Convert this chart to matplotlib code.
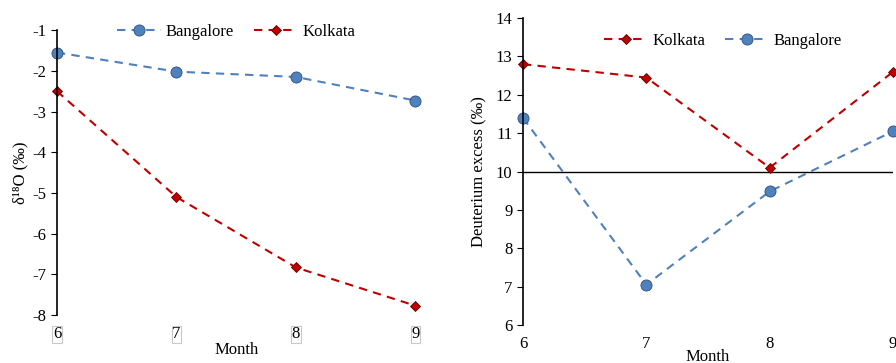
import numpy as np
import matplotlib.pyplot as plt

plt.rcParams["font.family"] = ["Liberation Serif", "DejaVu Serif"]
plt.rcParams["axes.unicode_minus"] = False

months = [6, 7, 8, 9]
d18o_bangalore = [-1.55, -2.02, -2.15, -2.73]
d18o_kolkata = [-2.5, -5.1, -6.83, -7.77]
dex_kolkata = [12.8, 12.45, 10.1, 12.6]
dex_bangalore = [11.4, 7.05, 9.48, 11.05]

blue = "#4F81BD"
red = "#C00000"

fig = plt.figure(figsize=(8.96, 3.63), dpi=100)
ax1 = fig.add_axes([0.0636, 0.132, 0.4, 0.785])
ax2 = fig.add_axes([0.5837, 0.105, 0.413, 0.845])

def style(ax):
	for s in ["top", "right", "bottom"]:
		ax.spines[s].set_visible(False)
	ax.spines["left"].set_linewidth(1.2)
	ax.tick_params(axis="y", direction="out", length=4, labelsize=12)
	ax.tick_params(axis="x", length=0, labelsize=12, pad=8)
	ax.set_xlim(6, 9)
	ax.set_xticks(months)

blue_kw = dict(color=blue, ls="--", lw=1.5, marker="o", ms=8, mfc=blue, mec="#2F4F7F", mew=0.6, dashes=(4, 3))
red_kw = dict(color=red, ls="--", lw=1.5, marker="D", ms=5.5, mfc=red, mec="#600000", mew=0.6, dashes=(4, 3))

ax1.plot(months, d18o_bangalore, label="Bangalore", clip_on=False, **blue_kw)
ax1.plot(months, d18o_kolkata, label="Kolkata", clip_on=False, **red_kw)
style(ax1)
ax1.set_ylim(-8, -1)
ax1.set_yticks(range(-8, 0))
ax1.set_ylabel("δ¹⁸O (‰)", fontsize=12, labelpad=3)
ax1.set_xlabel("Month", fontsize=12, labelpad=0)
for lab in ax1.get_xticklabels():
	lab.set_bbox(dict(facecolor="white", edgecolor="#C8C8C8", lw=0.8, pad=0.5))
ax1.legend(loc="upper center", bbox_to_anchor=(0.5, 1.075), ncol=2, frameon=False,
	fontsize=12, handlelength=2.6, columnspacing=1.2, handletextpad=0.3)

ax2.axhline(10, color="black", lw=1)
ax2.plot(months, dex_kolkata, label="Kolkata", clip_on=False, **red_kw)
ax2.plot(months, dex_bangalore, label="Bangalore", clip_on=False, **blue_kw)
style(ax2)
ax2.set_ylim(6, 14)
ax2.set_yticks(range(6, 15))
ax2.set_ylabel("Deuterium excess (‰)", fontsize=12, labelpad=6)
ax2.set_xlabel("Month", fontsize=12, labelpad=-2)
ax2.legend(loc="upper center", bbox_to_anchor=(0.54, 1.0), ncol=2, frameon=False,
	fontsize=12, handlelength=2.6, columnspacing=1.2, handletextpad=0.3)

fig.savefig("out.png", dpi=100)
